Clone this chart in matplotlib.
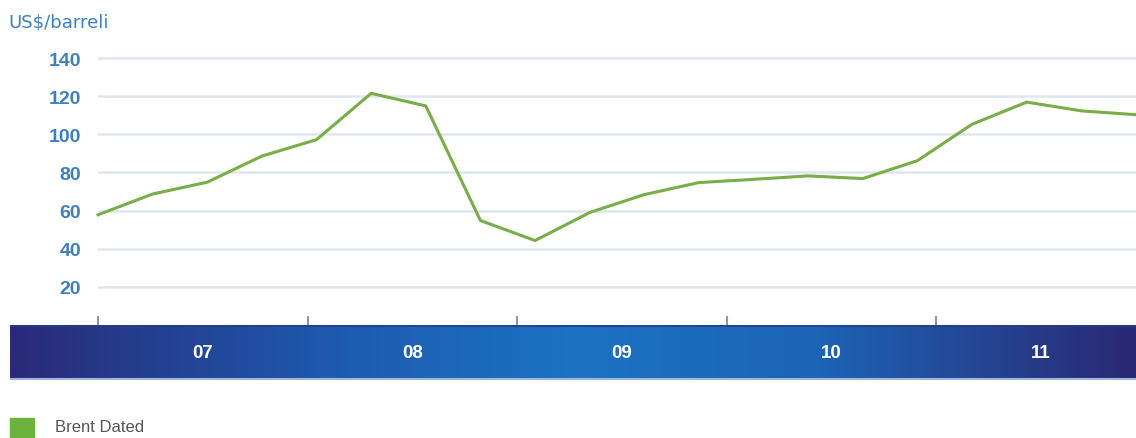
import numpy as np
import matplotlib
matplotlib.use("Agg")
import matplotlib.pyplot as plt
from matplotlib.colors import LinearSegmentedColormap
from matplotlib.patches import Rectangle

plt.rcParams['font.family'] = ['Liberation Sans', 'DejaVu Sans']

# ===================== 数据 =====================
years = ['07', '08', '09', '10', '11']
# Brent Dated 季度均价 (US$/barrel)
brent = [57.8, 68.7, 74.9, 88.6, 97.2, 121.5, 114.9, 54.8, 44.3, 59.0,
         68.4, 74.7, 76.4, 78.2, 76.8, 86.2, 105.3, 116.9, 112.3, 110.3]
yticks = [20, 40, 60, 80, 100, 120, 140]
unit_label = 'US$/barreli'
legend_label = 'Brent Dated'

# ===================== 样式 =====================
W, H = 1136, 439
LINE_GREEN = '#78ad48'
TICK_BLUE = '#3d7fc1'
GRID = '#dfe6f0'
PTS_PER_YEAR = 3.835  # 横轴上每年占的点数间距


def fx(px):
    return px / W


def fy(py):
    return 1 - py / H


fig = plt.figure(figsize=(W / 100, H / 100), dpi=100)
fig.patch.set_facecolor('white')

# 主图
ax = fig.add_axes([fx(98), fy(326), fx(1136 - 98), (326 - 40) / H])
x = np.arange(len(brent))
ax.set_xlim(0, len(brent) - 1)
ax.set_ylim(0, 150)
for v in yticks:
    ax.axhline(v, color=GRID, lw=1.8, zorder=1)
ax.plot(x, brent, color=LINE_GREEN, lw=2.2, zorder=3, clip_on=False,
        solid_joinstyle='round')
ax.set_yticks(yticks)
ax.set_yticklabels([str(v) for v in yticks], color=TICK_BLUE,
                   fontsize=14, fontweight='bold')
ax.tick_params(axis='y', length=0, pad=12)
ax.set_xticks([])
for s in ax.spines.values():
    s.set_visible(False)

# 年份色带
bx0 = -88 / (1038 / (len(brent) - 1))
band = fig.add_axes([fx(10), fy(381), fx(1136 - 10), 55 / H])
cmap = LinearSegmentedColormap.from_list('band', [
    (0.0, '#2a2a78'), (0.3, '#1d5cb1'), (0.5, '#1b72c3'),
    (0.72, '#1d64b5'), (1.0, '#2a2873')])
grad = np.linspace(0, 1, 512).reshape(1, -1)
band.imshow(grad, aspect='auto', cmap=cmap,
            extent=[bx0, len(brent) - 1, 0, 1])
band.set_xlim(bx0, len(brent) - 1)
band.set_ylim(0, 1)
band.axhline(0.985, color='#243e8c', lw=1.2)
band.axhline(0.01, color='#9bb7e0', lw=1.5)
for k, yr in enumerate(years):
    band.text((k + 0.5) * PTS_PER_YEAR, 0.5, yr, color='white',
              fontsize=13.5, fontweight='bold', ha='center', va='center')
band.axis('off')

# 年份刻度
for k in range(len(years)):
    ax.plot([k * PTS_PER_YEAR] * 2, [0, 4.2], color='#6f8cb9', lw=1.3,
            clip_on=False, zorder=2)

# 单位
fig.text(fx(8), fy(22), unit_label, color=TICK_BLUE, fontsize=13,
         family=['DejaVu Sans'], ha='left', va='center')

# 图例
fig.patches.append(Rectangle((fx(10), fy(440)), fx(24), 21 / H,
                             transform=fig.transFigure, color='#6cb33e'))
fig.text(fx(55), fy(428), legend_label, color='#555555', fontsize=12,
         ha='left', va='center')

fig.savefig('out.png', dpi=100)
